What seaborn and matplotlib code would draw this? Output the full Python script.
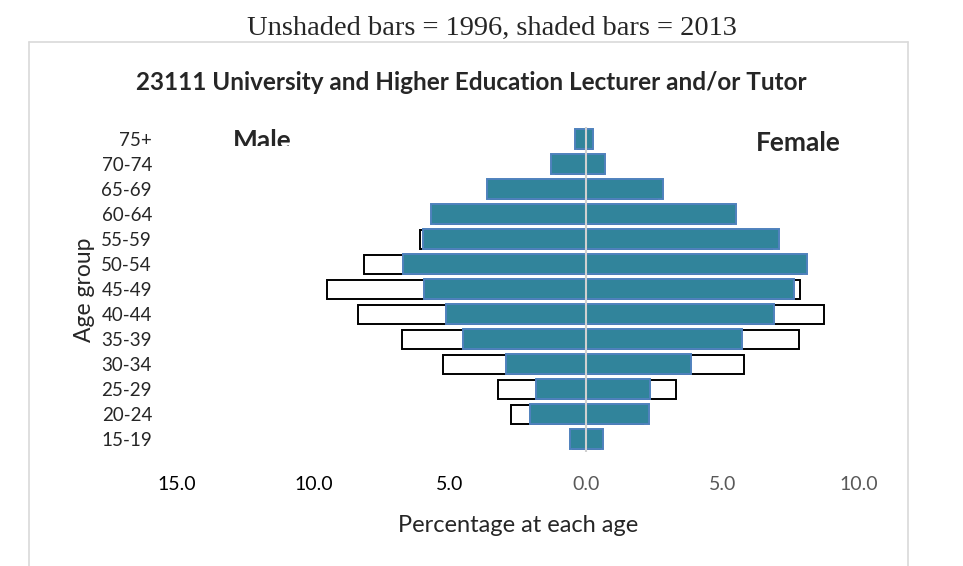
import matplotlib
matplotlib.use("Agg")
import matplotlib.pyplot as plt
from matplotlib.lines import Line2D
from matplotlib.transforms import Bbox, TransformedBbox
import pandas as pd
import seaborn as sns

# age groups, top to bottom
ages = ['75+', '70-74', '65-69', '60-64', '55-59', '50-54', '45-49',
        '40-44', '35-39', '30-34', '25-29', '20-24', '15-19']

# percentages (male drawn to the left)
male_1996 = [0.3, 1.1, 3.5, 5.5, 6.1, 8.15, 9.5, 8.35, 6.75, 5.25, 3.25, 2.75, 0.5]
male_2013 = [0.4, 1.3, 3.65, 5.7, 6.0, 6.7, 5.95, 5.15, 4.5, 2.95, 1.85, 2.05, 0.6]
female_1996 = [0.2, 0.6, 2.6, 5.3, 6.8, 7.9, 7.85, 8.7, 7.8, 5.8, 3.3, 2.1, 0.5]
female_2013 = [0.25, 0.7, 2.8, 5.5, 7.05, 8.1, 7.6, 6.9, 5.7, 3.85, 2.35, 2.3, 0.6]

xticks = [-15, -10, -5, 0, 5, 10]
xtick_labels = ['15.0', '10.0', '5.0', '0.0', '5.0', '10.0']

df = pd.DataFrame({'age': ages,
                   'm96': [-v for v in male_1996], 'm13': [-v for v in male_2013],
                   'f96': female_1996, 'f13': female_2013})

sns.set_style("white")
plt.rcParams['font.family'] = ['Lato', 'DejaVu Sans']

fig = plt.figure(figsize=(9.63, 5.66), dpi=100)
ax = fig.add_axes([0.1838, 0.2014, 0.7082, 0.5742])

shade = '#31849B'
shade_edge = '#4F81BD'
for col in ['m96', 'f96']:
    sns.barplot(data=df, x=col, y='age', order=ages, orient='h', color='white',
                edgecolor='black', linewidth=1.4, saturation=1, width=0.76,
                errorbar=None, ax=ax)
for col in ['m13', 'f13']:
    sns.barplot(data=df, x=col, y='age', order=ages, orient='h', color=shade,
                edgecolor=shade_edge, linewidth=1.4, saturation=1, width=0.78,
                errorbar=None, ax=ax)

ax.axvline(0, color='#D0D0D0', lw=1.5, zorder=5)
ax.set_xlim(-15, 10)
ax.set_ylim(12.52, -0.48)
ax.set_xticks(xticks)
ax.set_xticklabels(xtick_labels, fontsize=14)
for lab, c in zip(ax.get_xticklabels(), ['black'] * 3 + ['#595959'] * 3):
    lab.set_color(c)
ax.tick_params(axis='y', labelsize=13.5, length=0, pad=18)
ax.tick_params(axis='x', length=0, pad=17)
ax.set_xlabel('Percentage at each age', fontsize=17)
ax.xaxis.set_label_coords(0.5, -0.193)
ax.set_ylabel('Age group', fontsize=16.5)
ax.yaxis.set_label_coords(-0.12, 0.50)
sns.despine(ax=ax, left=True, bottom=True)

# chart frame
frame = dict(color='#D9D9D9', lw=1.2, transform=fig.transFigure)
fig.add_artist(Line2D([29 / 963, 29 / 963], [0, 1 - 42 / 566], **frame))
fig.add_artist(Line2D([908 / 963, 908 / 963], [0, 1 - 42 / 566], **frame))
fig.add_artist(Line2D([29 / 963, 908 / 963], [1 - 42 / 566, 1 - 42 / 566], **frame))

fig.text(492 / 963, 1 - 28 / 566, 'Unshaded bars = 1996, shaded bars = 2013',
         family='Liberation Serif', fontsize=20.5, ha='center', va='center')
fig.text(471 / 963, 1 - 82 / 566,
         '23111 University and Higher Education Lecturer and/or Tutor',
         fontsize=17.5, fontweight='bold', ha='center', va='center')

male = fig.text(262 / 963, 1 - 149 / 566, 'Male', fontsize=19,
                fontweight='bold', ha='center', va='baseline')
male.set_clip_box(TransformedBbox(Bbox([[0, 1 - 146 / 566], [1, 1]]), fig.transFigure))
male.set_clip_on(True)
fig.text(798 / 963, 1 - 151 / 566, 'Female', fontsize=19,
         fontweight='bold', ha='center', va='baseline')

fig.savefig('out.png', dpi=100)
